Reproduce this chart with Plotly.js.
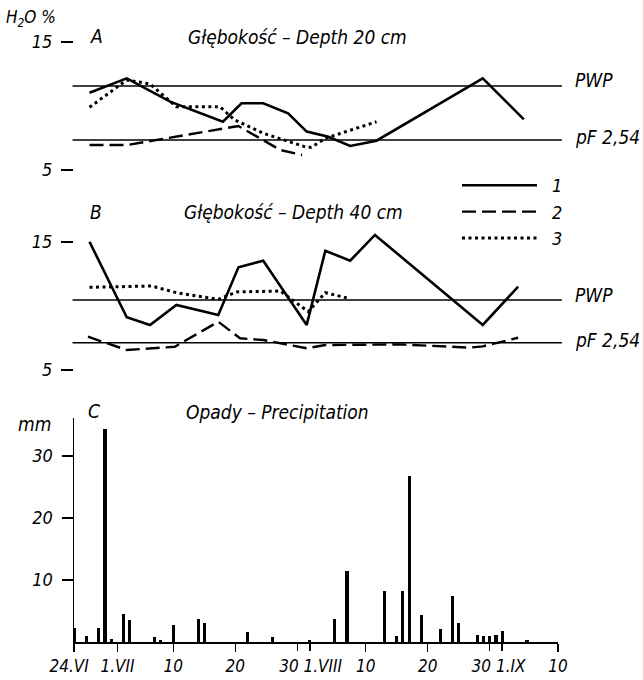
<!DOCTYPE html>
<html>
<head>
<meta charset="utf-8">
<script src="https://cdn.plot.ly/plotly-3.0.1.min.js"></script>
<style>html,body{margin:0;padding:0;background:#fff;}</style>
</head>
<body>
<div id="chart" style="width:643px;height:680px"></div>
<script>
// ---------- DATA ----------
// Panel A: depth 20 cm (H2O %)
const a1Dates = ['1966-06-26 12:00','1966-07-02 12:00','1966-07-09 12:00','1966-07-18 00:00','1966-07-21 00:00','1966-07-24 12:00','1966-07-28 12:00','1966-07-31 12:00','1966-08-04 00:00','1966-08-07 12:00','1966-08-11 18:00','1966-08-28 21:00','1966-09-04 12:00'];
const a1Values = [11.04, 12.16, 10.34, 8.77, 10.21, 10.21, 9.43, 8.0, 7.6, 6.88, 7.29, 12.16, 8.96];
const a2Dates = ['1966-06-26 12:00','1966-07-02 12:00','1966-07-20 12:00','1966-07-24 12:00','1966-07-27 06:00','1966-07-30 18:00'];
const a2Values = [6.95, 6.95, 8.44, 7.34, 6.56, 6.17];
const a3Dates = ['1966-06-26 12:00','1966-07-02 12:00','1966-07-06 06:00','1966-07-10 12:00','1966-07-17 12:00','1966-07-19 22:00','1966-07-24 12:00','1966-07-31 12:00','1966-08-01 06:00','1966-08-03 12:00','1966-08-11 18:00'];
const a3Values = [9.9, 12.03, 11.72, 9.95, 9.95, 8.9, 7.87, 6.77, 6.77, 7.48, 8.77];
const pwpA = 11.56;
const pfA = 7.34;

// Panel B: depth 40 cm (H2O %)
const b1Dates = ['1966-06-26 12:00','1966-07-02 12:00','1966-07-06 06:00','1966-07-10 12:00','1966-07-17 06:00','1966-07-20 12:00','1966-07-24 12:00','1966-07-31 12:00','1966-08-03 12:00','1966-08-07 12:00','1966-08-11 12:00','1966-08-28 21:00','1966-09-03 14:00'];
const b1Values = [15.02, 9.12, 8.52, 10.08, 9.3, 13.02, 13.54, 8.52, 14.32, 13.54, 15.55, 8.52, 11.51];
const b2Dates = ['1966-06-26 06:00','1966-07-02 12:00','1966-07-10 06:00','1966-07-17 06:00','1966-07-20 18:00','1966-07-24 12:00','1966-07-31 12:00','1966-08-03 12:00','1966-08-15 12:00','1966-08-26 18:00','1966-08-28 21:00','1966-09-03 14:00'];
const b2Values = [7.6, 6.56, 6.82, 8.77, 7.48, 7.34, 6.7, 6.95, 7.0, 6.75, 6.85, 7.52];
const b3Dates = ['1966-06-26 12:00','1966-07-06 12:00','1966-07-10 12:00','1966-07-17 06:00','1966-07-20 06:00','1966-07-27 06:00','1966-07-31 18:00','1966-08-03 12:00','1966-08-07 06:00'];
const b3Values = [11.46, 11.56, 11.04, 10.52, 11.1, 11.17, 9.56, 11.04, 10.6];
const pwpB = 10.47;
const pfB = 7.13;

// Panel C: precipitation (mm)
const rainDates = ['1966-06-24','1966-06-26','1966-06-28','1966-06-29','1966-06-30','1966-07-02','1966-07-03','1966-07-07','1966-07-08','1966-07-10','1966-07-14','1966-07-15','1966-07-22','1966-07-26','1966-08-01','1966-08-05','1966-08-07','1966-08-13','1966-08-15','1966-08-16','1966-08-17','1966-08-19','1966-08-22','1966-08-24','1966-08-25','1966-08-28','1966-08-29','1966-08-30','1966-08-31','1966-09-01','1966-09-05'];
const rainValues = [2.3, 0.9, 2.3, 34.4, 0.5, 4.5, 3.5, 0.8, 0.4, 2.7, 3.7, 3.1, 1.6, 0.8, 0.3, 3.7, 11.5, 8.3, 1.0, 8.3, 26.8, 4.4, 2.1, 7.4, 3.0, 1.2, 0.9, 0.9, 1.2, 1.8, 0.4];

// Axis ticks (centred labels, labels left of tick, labels right of tick)
const NB = '\u00a0';
const xTickVals = ['1966-06-24','1966-07-01','1966-07-10','1966-07-20','1966-08-10','1966-08-20','1966-09-10'];
const xTickText = ['24.VI'+NB+NB, '1.VII', '10', '20', '10', '20', '10'];
const xTickValsLeft = ['1966-07-30','1966-08-30'];
const xTickTextLeft = ['30', '30'];
const xTickValsRight = ['1966-08-01','1966-09-01'];
const xTickTextRight = ['1.VIII', '1.IX'];
const seriesNames = ['1', '2', '3'];
const labels = {
  unit: 'H<sub>2</sub>O %', a: 'A', b: 'B', c: 'C',
  titleA: 'Głębokość – Depth 20 cm', titleB: 'Głębokość – Depth 40 cm', titleC: 'Opady – Precipitation',
  mm: 'mm', pwp: 'PWP', pf: 'pF 2,54'
};

// ---------- CHART ----------
const W = 643, H = 680;
const px = v => v / W;
const py = v => 1 - v / H;
const FONT = '"DejaVu Sans Condensed", "Liberation Sans", sans-serif';
const X_RANGE = ['1966-06-24', '1966-09-10'];

const solid = {color: '#000', width: 2.6};
const dashed = {color: '#000', width: 2.4, dash: '14px,6px'};
const dotted = {color: '#000', width: 3, dash: '3px,3.5px'};

const traces = [
  {x: a1Dates, y: a1Values, type: 'scatter', mode: 'lines', line: solid, name: seriesNames[0], legendgroup: 's1', xaxis: 'x', yaxis: 'y'},
  {x: a2Dates, y: a2Values, type: 'scatter', mode: 'lines', line: dashed, name: seriesNames[1], legendgroup: 's2', xaxis: 'x', yaxis: 'y'},
  {x: a3Dates, y: a3Values, type: 'scatter', mode: 'lines', line: dotted, name: seriesNames[2], legendgroup: 's3', xaxis: 'x', yaxis: 'y'},
  {x: b1Dates, y: b1Values, type: 'scatter', mode: 'lines', line: solid, name: seriesNames[0], legendgroup: 's1', showlegend: false, xaxis: 'x', yaxis: 'y2'},
  {x: b2Dates, y: b2Values, type: 'scatter', mode: 'lines', line: dashed, name: seriesNames[1], legendgroup: 's2', showlegend: false, xaxis: 'x', yaxis: 'y2'},
  {x: b3Dates, y: b3Values, type: 'scatter', mode: 'lines', line: dotted, name: seriesNames[2], legendgroup: 's3', showlegend: false, xaxis: 'x', yaxis: 'y2'},
  {x: rainDates, y: rainValues, type: 'bar', marker: {color: '#000', line: {width: 0}}, width: 0.5 * 86400000, showlegend: false, xaxis: 'x', yaxis: 'y3', name: 'mm'},
  // empty traces that only register the two overlay date axes carrying the offset tick labels
  {x: [], y: [], type: 'scatter', mode: 'lines', showlegend: false, hoverinfo: 'skip', xaxis: 'x2', yaxis: 'y3'},
  {x: [], y: [], type: 'scatter', mode: 'lines', showlegend: false, hoverinfo: 'skip', xaxis: 'x3', yaxis: 'y3'}
];

const yCommon = {
  ticks: 'outside', ticklen: 12, tickwidth: 2, tickcolor: '#000',
  showgrid: false, zeroline: false, ticklabelstandoff: 5,
  tickfont: {family: FONT, size: 18, style: 'italic', color: '#000'}, fixedrange: true
};
const xCommon = {
  type: 'date', range: X_RANGE, domain: [px(74), px(558)], anchor: 'y3', tickmode: 'array', tickangle: 0,
  ticks: 'outside', ticklen: 8, tickwidth: 1.5, tickcolor: '#000', showgrid: false, zeroline: false,
  tickfont: {family: FONT, size: 17, style: 'italic', color: '#000'}, fixedrange: true
};

const refLine = (yref, v) => ({type: 'line', xref: 'x domain', x0: -0.003, x1: 1.008, yref: yref, y0: v, y1: v, line: {color: '#000', width: 1.5}});
const ann = (text, x, y, opts) => Object.assign({text: text, xref: 'paper', yref: 'paper', x: px(x), y: py(y), xanchor: 'left', yanchor: 'middle', showarrow: false, font: {family: FONT, size: 19, style: 'italic', color: '#000'}}, opts || {});
const refAnn = (text, yref, v, shift) => ({text: text, xref: 'x domain', x: (573 - 74) / 484, xanchor: 'left', yref: yref, y: v, yanchor: 'middle', yshift: shift, showarrow: false, font: {family: FONT, size: 19, style: 'italic', color: '#000'}});

const layout = {
  width: W, height: H,
  margin: {l: 0, r: 0, t: 0, b: 0},
  paper_bgcolor: '#fff', plot_bgcolor: 'rgba(0,0,0,0)',
  font: {family: FONT, size: 17, color: '#000', style: 'italic'},
  showlegend: true,
  legend: {x: px(512), xanchor: 'left', y: py(167), yanchor: 'top', bgcolor: 'rgba(0,0,0,0)', tracegroupgap: 0, font: {family: FONT, size: 18, style: 'italic'}},
  bargap: 0,
  xaxis: Object.assign({}, xCommon, {tickvals: xTickVals, ticktext: xTickText, showline: true, linewidth: 2, linecolor: '#000'}),
  xaxis2: Object.assign({}, xCommon, {overlaying: 'x', tickvals: xTickValsLeft, ticktext: xTickTextLeft, ticklabelposition: 'outside left', ticklabelstandoff: 9, ticklabelshift: 2, showline: false}),
  xaxis3: Object.assign({}, xCommon, {overlaying: 'x', tickvals: xTickValsRight, ticktext: xTickTextRight, ticklabelposition: 'outside right', ticklabelstandoff: 9, ticklabelshift: -7, showline: false}),
  yaxis: Object.assign({}, yCommon, {domain: [py(182.8), py(29.2)], range: [4, 16], anchor: 'x', tickvals: [5, 15], showline: false}),
  yaxis2: Object.assign({}, yCommon, {domain: [py(382.8), py(229.2)], range: [4, 16], anchor: 'x', tickvals: [5, 15], showline: false}),
  yaxis3: Object.assign({}, yCommon, {domain: [py(642), py(418)], range: [0, 36.1], anchor: 'x', tickvals: [10, 20, 30], ticklen: 11, showline: true, linewidth: 1.5, linecolor: '#000'}),
  shapes: [refLine('y', pwpA), refLine('y', pfA), refLine('y2', pwpB), refLine('y2', pfB)],
  annotations: [
    ann(labels.unit, 4, 18, {font: {family: FONT, size: 17, style: 'italic', color: '#000'}}),
    ann(labels.a, 88, 36),
    ann(labels.titleA, 186, 37),
    ann(labels.b, 88, 212),
    ann(labels.titleB, 182, 212),
    ann(labels.c, 86, 411),
    ann(labels.titleC, 184, 412),
    ann(labels.mm, 16, 424),
    refAnn(labels.pwp, 'y', pwpA, 6),
    refAnn(labels.pf, 'y', pfA, 3),
    refAnn(labels.pwp, 'y2', pwpB, 5),
    refAnn(labels.pf, 'y2', pfB, 3)
  ]
};

// Legend samples in the reference are long strokes; widen the legend glyphs
function stretchLegendLines(gd) {
  gd.querySelectorAll('.legend [clip-path]').forEach(function (el) { el.removeAttribute('clip-path'); });
  gd.querySelectorAll('.legendlines path').forEach(function (p) { p.setAttribute('d', 'M-50,0h75'); });
}
Plotly.newPlot('chart', traces, layout, {staticPlot: true, displayModeBar: false}).then(function (gd) {
  stretchLegendLines(gd);
  gd.on && gd.on('plotly_afterplot', function () { stretchLegendLines(gd); });
  setTimeout(function () { stretchLegendLines(gd); }, 50);
});
</script>
</body>
</html>
